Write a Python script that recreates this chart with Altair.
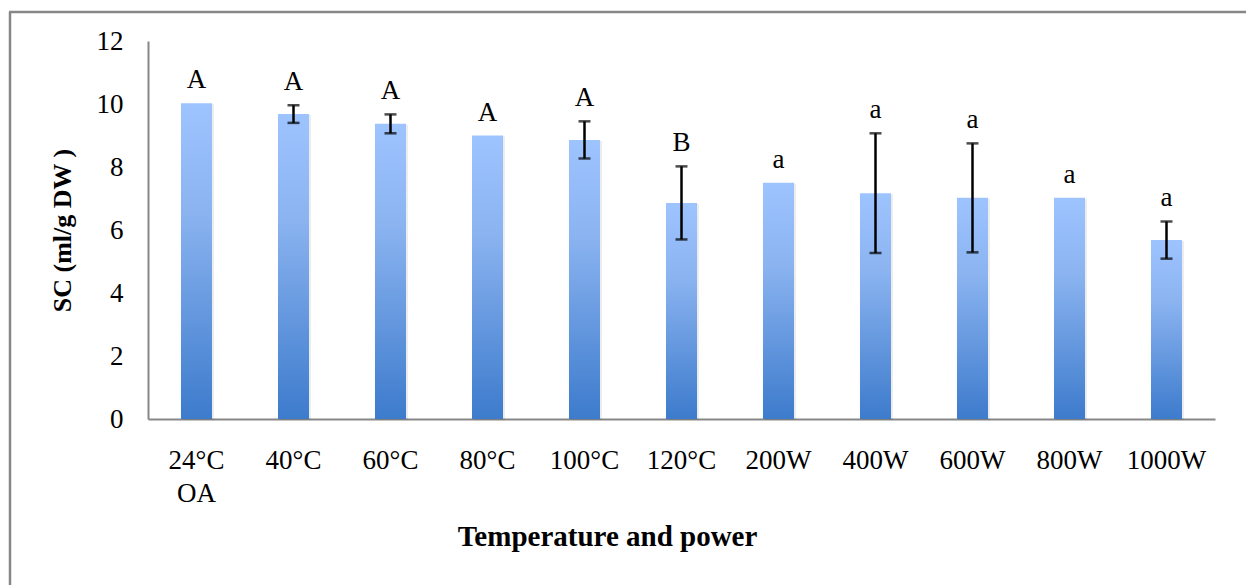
import altair as alt
import pandas as pd

# Treatments (drying temperature / microwave power) and measured SC
categories = ["24°C\nOA", "40°C", "60°C", "80°C", "100°C", "120°C",
              "200W", "400W", "600W", "800W", "1000W"]
sc_values = [10.02, 9.68, 9.37, 9.00, 8.86, 6.86, 7.50, 7.17, 7.02, 7.02, 5.68]
sc_errors = [0.0, 0.28, 0.30, 0.0, 0.59, 1.16, 0.0, 1.90, 1.73, 0.0, 0.59]
groups = ["A", "A", "A", "A", "A", "B", "a", "a", "a", "a", "a"]
y_ticks = [0, 2, 4, 6, 8, 10, 12]

df = pd.DataFrame({
    "treatment": categories,
    "sc": sc_values,
    "err": sc_errors,
    "group": groups,
})
df["lo"] = df["sc"] - df["err"]
df["hi"] = df["sc"] + df["err"]

FONT = "Liberation Serif"
AXIS_GREY = "#878787"

x_enc = alt.X(
    "treatment:N",
    sort=categories,
    scale=alt.Scale(paddingInner=0.68, paddingOuter=0.34),
    axis=alt.Axis(
        title="Temperature and power",
        labelAngle=0,
        labelExpr="split(datum.label, '\\n')",
        labelLineHeight=33,
        labelFont=FONT,
        labelFontSize=27,
        labelColor="#000000",
        labelPadding=28,
        labelBaseline="top",
        ticks=False,
        domainColor=AXIS_GREY,
        domainWidth=2,
        titleFont=FONT,
        titleFontSize=29,
        titleFontWeight="bold",
        titleColor="#000000",
        titleX=459,
        titleY=126,
        titleAlign="center",
        titleBaseline="alphabetic",
    ),
)

y_scale = alt.Scale(domain=[0, 12], nice=False)
y_axis = alt.Axis(
    title="SC (ml/g DW )",
    values=y_ticks,
    grid=False,
    ticks=False,
    domainColor=AXIS_GREY,
    domainWidth=2,
    labelFont=FONT,
    labelFontSize=27,
    labelColor="#000000",
    labelPadding=25,
    titleFont=FONT,
    titleFontSize=26,
    titleFontWeight="bold",
    titleColor="#000000",
    titleAngle=270,
    titleX=-86,
    titleY=189,
    titleAlign="center",
    titleBaseline="middle",
)

base = alt.Chart(df)

shadow = base.mark_bar(color="#000000", opacity=0.07, xOffset=2, yOffset=1).encode(
    x=x_enc, y=alt.Y("sc:Q", scale=y_scale, axis=y_axis)
)

bars = base.mark_bar(
    color=alt.Gradient(
        gradient="linear",
        x1=0, y1=0, x2=0, y2=1,
        stops=[
            alt.GradientStop(color="#9EC4FF", offset=0),
            alt.GradientStop(color="#8AB3F0", offset=0.35),
            alt.GradientStop(color="#3D7BCC", offset=1),
        ],
    )
).encode(x=x_enc, y=alt.Y("sc:Q", scale=y_scale, axis=y_axis))

with_err = base.transform_filter("datum.err > 0")

err_rule = with_err.mark_rule(color="#000000", strokeWidth=2.5).encode(
    x=x_enc, y=alt.Y("lo:Q", scale=y_scale), y2="hi:Q"
)
err_top = with_err.mark_tick(color="#000000", thickness=2.5, size=12, orient="horizontal").encode(
    x=x_enc, y=alt.Y("hi:Q", scale=y_scale)
)
err_bottom = with_err.mark_tick(color="#000000", thickness=2.5, size=12, orient="horizontal").encode(
    x=x_enc, y=alt.Y("lo:Q", scale=y_scale)
)

letters = base.mark_text(
    font=FONT, fontSize=27, color="#000000", baseline="alphabetic", dy=-15
).encode(x=x_enc, y=alt.Y("hi:Q", scale=y_scale), text="group:N")

# Outer chart-area border (left and top edges)
frame_src = alt.Chart(alt.Data(values=[{}]))
frame_left = frame_src.mark_rule(color=AXIS_GREY, strokeWidth=2.5).encode(
    x=alt.value(-138), y=alt.value(-29), y2=alt.value(560)
)
frame_top = frame_src.mark_rule(color=AXIS_GREY, strokeWidth=2.5).encode(
    x=alt.value(-139), x2=alt.value(1120), y=alt.value(-29)
)

chart = alt.layer(
    shadow, bars, err_rule, err_top, err_bottom, letters, frame_left, frame_top
).properties(
    width=1067,
    height=378,
    autosize=alt.AutoSizeParams(type="none"),
    padding={"left": 148, "top": 41, "right": 31, "bottom": 166},
    background="#FFFFFF",
).configure_view(stroke=None)

chart.save("out.html", embed_options={"renderer": "svg", "actions": False})
